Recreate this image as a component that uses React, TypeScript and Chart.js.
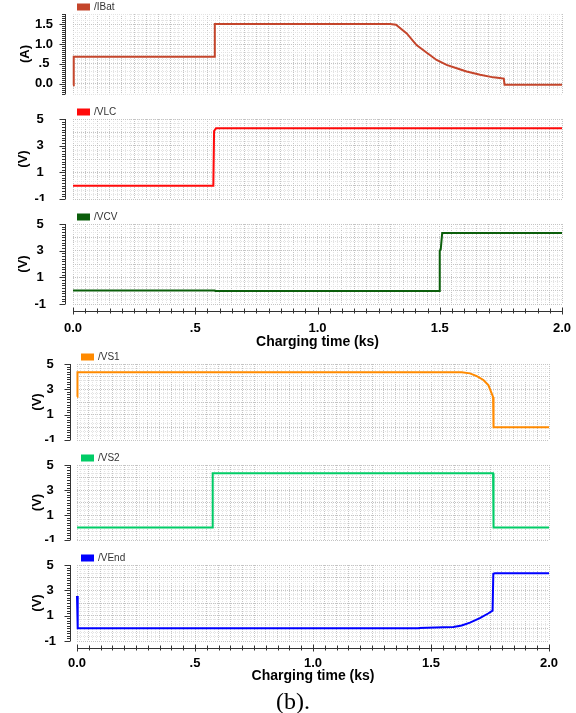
import React, { useEffect, useRef } from 'react';
import { Chart, registerables } from 'chart.js';

Chart.register(...registerables);

const FONT = '"Liberation Sans", Arial, Helvetica, sans-serif';

// ---- axis ticks / labels ----
const X_TICK_VALUES = [0, 0.5, 1, 1.5, 2];
const X_TICK_LABELS = ['0.0', '.5', '1.0', '1.5', '2.0'];
const X_TITLE = 'Charging time (ks)';
const A_TICK_VALUES = [0, 0.5, 1, 1.5];
const A_TICK_LABELS = ['0.0', '.5', '1.0', '1.5'];
const V_TICK_VALUES = [-1, 1, 3, 5];
const V_TICK_LABELS = ['-1', '1', '3', '5'];
const CAPTION = '(b).';

// ---- series (time in ks) ----
const IBAT_T = [0, 0.003, 0.577, 0.58, 1.297, 1.321, 1.365, 1.405, 1.447, 1.487, 1.528, 1.569, 1.61, 1.665, 1.719, 1.753, 1.762, 1.765, 2.0];
const IBAT_A = [-0.04, 0.68, 0.68, 1.51, 1.51, 1.49, 1.27, 0.975, 0.78, 0.6, 0.475, 0.39, 0.31, 0.225, 0.16, 0.135, 0.13, -0.025, -0.025];

const VLC_T = [0, 0.574, 0.577, 0.585, 2.0];
const VLC_V = [0, 0, 4.1, 4.3, 4.3];

const VCV_T = [0, 0.58, 0.582, 1.498, 1.5, 1.504, 1.51, 2.0];
const VCV_V = [0.02, 0.02, -0.03, -0.03, 3.0, 3.1, 4.33, 4.33];

const VS1_T = [0, 0.002, 1.63, 1.665, 1.694, 1.722, 1.743, 1.757, 1.763, 1.765, 2.0];
const VS1_V = [2.42, 4.35, 4.35, 4.26, 4.05, 3.74, 3.34, 2.69, 2.4, 0, 0];

const VS2_T = [0, 0.573, 0.575, 1.763, 1.765, 2.0];
const VS2_V = [0, 0, 4.34, 4.34, 0, 0];

const VEND_T = [0, 0.003, 1.446, 1.45, 1.552, 1.595, 1.63, 1.665, 1.707, 1.742, 1.761, 1.764, 1.771, 2.0];
const VEND_V = [2.56, 0, 0, 0.03, 0.08, 0.1, 0.22, 0.45, 0.8, 1.17, 1.4, 4.3, 4.34, 4.34];

interface XAxisSpec { labelPad: number; titleOffset: number; rulerGap: number }
interface Panel {
  name: string; color: string; t: number[]; v: number[];
  unit: string; yMin: number; yMax: number; gridStep: number; gridMajor: number; rulerStep: number;
  tickValues: number[]; tickLabels: string[];
  plotTop: number; plotBottom: number; plotLeft: number; plotRight: number;
  labelPad: number; titleX: number; rulerGap: number;
  xAxis: XAxisSpec | null;
}

const TOP_L = 73, TOP_R = 562, BOT_L = 77, BOT_R = 549;

const PANELS: Panel[] = [
  { name: '/IBat', color: '#c4452b', t: IBAT_T, v: IBAT_A, unit: '(A)', yMin: -0.26, yMax: 1.76, gridStep: 0.1, gridMajor: 0.5, rulerStep: 0.05,
    tickValues: A_TICK_VALUES, tickLabels: A_TICK_LABELS, plotTop: 14, plotBottom: 94, plotLeft: TOP_L, plotRight: TOP_R,
    labelPad: 20, titleX: 25, rulerGap: 8, xAxis: null },
  { name: '/VLC', color: '#ff0a0a', t: VLC_T, v: VLC_V, unit: '(V)', yMin: -1, yMax: 5, gridStep: 1 / 3, gridMajor: 1, rulerStep: 0.2,
    tickValues: V_TICK_VALUES, tickLabels: V_TICK_LABELS, plotTop: 119, plotBottom: 199, plotLeft: TOP_L, plotRight: TOP_R,
    labelPad: 27, titleX: 23, rulerGap: 8, xAxis: null },
  { name: '/VCV', color: '#0b5e0b', t: VCV_T, v: VCV_V, unit: '(V)', yMin: -1, yMax: 5, gridStep: 1 / 3, gridMajor: 1, rulerStep: 0.2,
    tickValues: V_TICK_VALUES, tickLabels: V_TICK_LABELS, plotTop: 224, plotBottom: 304, plotLeft: TOP_L, plotRight: TOP_R,
    labelPad: 27, titleX: 23, rulerGap: 8, xAxis: { labelPad: 17, titleOffset: 38, rulerGap: 6.5 } },
  { name: '/VS1', color: '#ff8a00', t: VS1_T, v: VS1_V, unit: '(V)', yMin: -1, yMax: 5, gridStep: 1 / 3, gridMajor: 1, rulerStep: 0.2,
    tickValues: V_TICK_VALUES, tickLabels: V_TICK_LABELS, plotTop: 364, plotBottom: 440, plotLeft: BOT_L, plotRight: BOT_R,
    labelPad: 21, titleX: 37, rulerGap: 7, xAxis: null },
  { name: '/VS2', color: '#00cc66', t: VS2_T, v: VS2_V, unit: '(V)', yMin: -1, yMax: 5, gridStep: 1 / 3, gridMajor: 1, rulerStep: 0.2,
    tickValues: V_TICK_VALUES, tickLabels: V_TICK_LABELS, plotTop: 465, plotBottom: 540, plotLeft: BOT_L, plotRight: BOT_R,
    labelPad: 21, titleX: 37, rulerGap: 7, xAxis: null },
  { name: '/VEnd', color: '#0000ff', t: VEND_T, v: VEND_V, unit: '(V)', yMin: -1, yMax: 5, gridStep: 1 / 3, gridMajor: 1, rulerStep: 0.2,
    tickValues: V_TICK_VALUES, tickLabels: V_TICK_LABELS, plotTop: 565, plotBottom: 641, plotLeft: BOT_L, plotRight: BOT_R,
    labelPad: 21, titleX: 37, rulerGap: 7, xAxis: { labelPad: 15, titleOffset: 35, rulerGap: 7 } },
];

const LEGEND_H = 17;
const X_GRID_STEP = 1 / 60;
const X_GRID_MAJOR = 0.05;
const X_RULER_STEP = 0.05;

const isMult = (v: number, m: number) => Math.abs(v / m - Math.round(v / m)) < 1e-6;
const labelFor = (vals: number[], labels: string[]) => (value: any) => {
  const i = vals.findIndex((t) => Math.abs(t - Number(value)) < 1e-6);
  return i >= 0 ? labels[i] : '';
};

const rulerPlugin = {
  id: 'ruler',
  afterDraw(chart: any, _args: any, opts: any) {
    const { ctx, chartArea } = chart;
    const ys = chart.scales.y;
    const xs = chart.scales.x;
    ctx.save();
    ctx.strokeStyle = '#333';
    ctx.lineWidth = 1;
    ctx.beginPath();
    const ax = Math.round(chartArea.left - opts.yGap) + 0.5;
    ctx.moveTo(ax, chartArea.top);
    ctx.lineTo(ax, chartArea.bottom);
    const n0 = Math.ceil(ys.min / opts.yStep - 1e-6);
    const n1 = Math.floor(ys.max / opts.yStep + 1e-6);
    for (let k = n0; k <= n1; k++) {
      const v = k * opts.yStep;
      const py = Math.round(ys.getPixelForValue(v)) + 0.5;
      const major = opts.yMajor.some((m: number) => Math.abs(m - v) < 1e-6);
      ctx.moveTo(ax - (major ? 6 : 3.5), py);
      ctx.lineTo(ax, py);
    }
    if (opts.xGap != null) {
      const ay = Math.round(chartArea.bottom + opts.xGap) + 0.5;
      ctx.moveTo(chartArea.left, ay);
      ctx.lineTo(chartArea.right, ay);
      const m0 = Math.ceil(xs.min / opts.xStep - 1e-6);
      const m1 = Math.floor(xs.max / opts.xStep + 1e-6);
      for (let k = m0; k <= m1; k++) {
        const v = k * opts.xStep;
        const px = Math.round(xs.getPixelForValue(v)) + 0.5;
        const major = opts.xMajor.some((m: number) => Math.abs(m - v) < 1e-6);
        ctx.moveTo(px, ay - (major ? 4 : 3));
        ctx.lineTo(px, ay + (major ? 3 : 2));
      }
    }
    ctx.stroke();
    ctx.restore();
  },
};

function geometry(p: Panel) {
  const top = p.plotTop - LEGEND_H;
  const xH = p.xAxis ? p.xAxis.titleOffset + 10 : 0;
  const padBottom = p.xAxis ? 0 : 2;
  const h = p.plotBottom - top + xH + padBottom;
  return { top, h, xH, padBottom };
}

function buildConfig(p: Panel) {
  const g = geometry(p);
  const tickFont = { family: FONT, size: 13, weight: 'bold' as const };
  return {
    type: 'line' as const,
    data: {
      datasets: [
        {
          label: p.name,
          data: p.t.map((t, i) => ({ x: t, y: p.v[i] })),
          borderColor: p.color,
          backgroundColor: p.color,
          borderWidth: 2,
          pointRadius: 0,
          tension: 0,
          fill: false,
          clip: 2,
        },
      ],
    },
    plugins: [rulerPlugin],
    options: {
      responsive: false,
      animation: false,
      devicePixelRatio: 1,
      events: [],
      layout: { padding: { top: 0, left: 0, right: 576 - p.plotRight, bottom: g.padBottom } },
      plugins: {
        legend: {
          display: true,
          position: 'top',
          align: 'start',
          fullSize: false,
          maxHeight: LEGEND_H,
          labels: { boxWidth: 11, boxHeight: 5, padding: 5, color: '#333', font: { family: FONT, size: 10 } },
        },
        tooltip: { enabled: false },
        ruler: {
          yGap: p.rulerGap,
          yStep: p.rulerStep,
          yMajor: p.tickValues,
          xGap: p.xAxis ? p.xAxis.rulerGap : null,
          xStep: X_RULER_STEP,
          xMajor: X_TICK_VALUES,
        },
      },
      scales: {
        x: {
          type: 'linear',
          min: 0,
          max: 2,
          afterFit: (s: any) => {
            s.height = g.xH;
            s.paddingLeft = 0;
            s.paddingRight = 0;
            s.paddingTop = 0;
            s.paddingBottom = 0;
          },
          ticks: {
            display: !!p.xAxis,
            stepSize: X_GRID_STEP,
            autoSkip: false,
            maxRotation: 0,
            minRotation: 0,
            padding: p.xAxis ? p.xAxis.labelPad : 0,
            color: '#000',
            font: tickFont,
            callback: labelFor(X_TICK_VALUES, X_TICK_LABELS),
          },
          grid: {
            drawTicks: false,
            lineWidth: 1,
            color: (c: any) => (c.tick && isMult(c.tick.value, X_GRID_MAJOR) ? '#c4c4c4' : '#e3e3e3'),
          },
          border: { display: false, dash: [1, 1] },
          title: {
            display: !!p.xAxis,
            text: X_TITLE,
            color: '#000',
            font: { family: FONT, size: 14, weight: 'bold' },
            padding: { top: 0, bottom: 1.6 },
          },
        },
        y: {
          type: 'linear',
          min: p.yMin,
          max: p.yMax,
          afterFit: (s: any) => {
            s.width = p.plotLeft;
            s.paddingTop = 0;
            s.paddingBottom = 0;
            s.paddingLeft = 0;
            s.paddingRight = 0;
          },
          ticks: {
            stepSize: p.gridStep,
            autoSkip: false,
            crossAlign: 'center',
            padding: p.labelPad,
            color: '#000',
            font: tickFont,
            callback: labelFor(p.tickValues, p.tickLabels),
          },
          grid: {
            drawTicks: false,
            lineWidth: 1,
            color: (c: any) => (c.tick && isMult(c.tick.value, p.gridMajor) ? '#c4c4c4' : '#e3e3e3'),
          },
          border: { display: false, dash: [1, 1] },
          title: {
            display: true,
            text: p.unit,
            color: '#000',
            font: { family: FONT, size: 13, weight: 'bold' },
            padding: { top: p.titleX - 7.8, bottom: 0 },
          },
        },
      },
    },
  };
}

function PanelChart({ p }: { p: Panel }) {
  const ref = useRef<HTMLCanvasElement>(null);
  const g = geometry(p);
  useEffect(() => {
    if (!ref.current) return;
    const chart = new Chart(ref.current, buildConfig(p) as any);
    return () => chart.destroy();
  }, [p]);
  return (
    <canvas
      ref={ref}
      width={576}
      height={g.h}
      style={{ position: 'absolute', left: 0, top: g.top, width: 576, height: g.h, display: 'block' }}
    />
  );
}

export default function App() {
  return (
    <div style={{ position: 'absolute', left: 0, top: 0, width: 576, height: 713, background: '#fff', overflow: 'hidden' }}>
      {PANELS.map((p) => (
        <PanelChart key={p.name} p={p} />
      ))}
      <div
        style={{
          position: 'absolute',
          left: 5,
          top: 688,
          width: 576,
          textAlign: 'center',
          fontFamily: '"Liberation Serif", "Times New Roman", serif',
          fontSize: 24,
          lineHeight: '27px',
          color: '#000',
        }}
      >
        {CAPTION}
      </div>
    </div>
  );
}
